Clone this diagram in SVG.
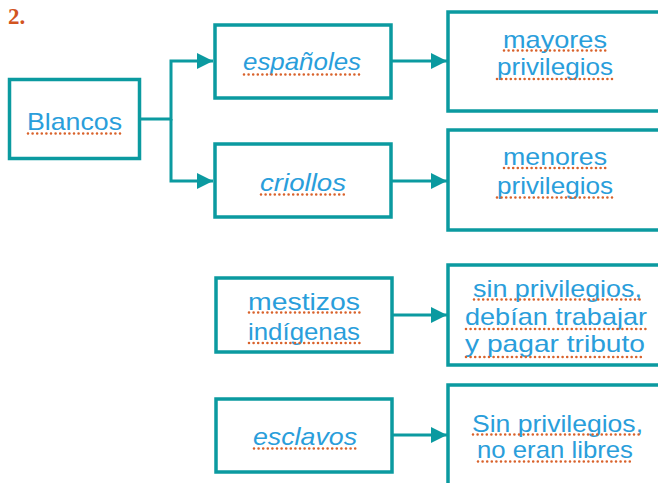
<svg xmlns="http://www.w3.org/2000/svg" width="658" height="483" viewBox="0 0 658 483">
<defs>
<style>
.box{fill:#fff;stroke:#0b9aa0;stroke-width:3.5}
.conn{fill:none;stroke:#0b9aa0;stroke-width:3}
.t{font-family:"Liberation Sans",Arial,sans-serif;font-size:24px;fill:#2a9edb}
.i{font-style:italic}
.u{stroke:#d9622b;stroke-width:2.6;stroke-linecap:round;stroke-dasharray:0 4.6;fill:none}
.num{font-family:"Liberation Serif","DejaVu Serif",serif;font-weight:bold;font-size:23px;fill:#d2541f}
</style>
<marker id="ah" viewBox="0 0 10 10" refX="10" refY="5" markerWidth="16" markerHeight="16" markerUnits="userSpaceOnUse" orient="auto">
<path d="M0,0 L10,5 L0,10 Z" fill="#0b9aa0"/>
</marker>
</defs>
<rect width="658" height="483" fill="#fff"/>
<text class="num" x="8" y="24">2.</text>

<g id="connectors">
<path class="conn" d="M140,119 H171 V61 H213" marker-end="url(#ah)"/>
<path class="conn" d="M171,119 V181 H213" marker-end="url(#ah)"/>
<path class="conn" d="M391,61 H447" marker-end="url(#ah)"/>
<path class="conn" d="M391,181 H447" marker-end="url(#ah)"/>
<path class="conn" d="M392,315 H447" marker-end="url(#ah)"/>
<path class="conn" d="M392,435 H447" marker-end="url(#ah)"/>
</g>

<g id="blancos">
<rect class="box" x="9.5" y="79.5" width="130" height="79"/>
<text class="t" x="27" y="130" textLength="95" lengthAdjust="spacingAndGlyphs">Blancos</text>
<line class="u" x1="28" y1="133.5" x2="122" y2="133.5"/>
</g>

<g id="espanoles">
<rect class="box" x="215" y="25" width="176" height="73"/>
<text class="t i" x="243" y="70" textLength="118" lengthAdjust="spacingAndGlyphs">españoles</text>
<line class="u" x1="244" y1="74.5" x2="362" y2="74.5"/>
</g>

<g id="criollos">
<rect class="box" x="215" y="144" width="176" height="73"/>
<text class="t i" x="260" y="191" textLength="86" lengthAdjust="spacingAndGlyphs">criollos</text>
<line class="u" x1="261" y1="194.5" x2="346" y2="194.5"/>
</g>

<g id="mayores">
<rect class="box" x="448" y="12" width="220" height="99"/>
<text class="t" x="503" y="48" textLength="104" lengthAdjust="spacingAndGlyphs">mayores</text>
<line class="u" x1="504" y1="50.5" x2="607" y2="50.5"/>
<text class="t" x="497" y="75" textLength="116" lengthAdjust="spacingAndGlyphs">privilegios</text>
<line class="u" x1="497" y1="79" x2="613" y2="79"/>
</g>

<g id="menores">
<rect class="box" x="448" y="130" width="220" height="100"/>
<text class="t" x="503" y="165" textLength="104" lengthAdjust="spacingAndGlyphs">menores</text>
<line class="u" x1="504" y1="168" x2="607" y2="168"/>
<text class="t" x="497" y="194" textLength="116" lengthAdjust="spacingAndGlyphs">privilegios</text>
<line class="u" x1="497" y1="197.5" x2="613" y2="197.5"/>
</g>

<g id="mestizos">
<rect class="box" x="216" y="278" width="176" height="74"/>
<text class="t" x="248" y="310" textLength="112" lengthAdjust="spacingAndGlyphs">mestizos</text>
<line class="u" x1="249" y1="312.5" x2="361" y2="312.5"/>
<text class="t" x="248" y="340" textLength="112" lengthAdjust="spacingAndGlyphs">indígenas</text>
<line class="u" x1="249" y1="343" x2="361" y2="343"/>
</g>

<g id="sin-privilegios-tributo">
<rect class="box" x="448" y="265" width="220" height="100"/>
<text class="t" x="473" y="297" textLength="169" lengthAdjust="spacingAndGlyphs">sin privilegios,</text>
<line class="u" x1="474" y1="299.5" x2="642" y2="299.5"/>
<text class="t" x="465" y="325" textLength="182" lengthAdjust="spacingAndGlyphs">debían trabajar</text>
<line class="u" x1="466" y1="329" x2="647" y2="329"/>
<text class="t" x="465" y="352" textLength="180" lengthAdjust="spacingAndGlyphs">y pagar tributo</text>
<line class="u" x1="466" y1="357" x2="645" y2="357"/>
</g>

<g id="esclavos">
<rect class="box" x="216" y="399" width="176" height="73"/>
<text class="t i" x="253" y="445" textLength="104" lengthAdjust="spacingAndGlyphs">esclavos</text>
<line class="u" x1="254" y1="448.5" x2="357" y2="448.5"/>
</g>

<g id="sin-privilegios-libres">
<rect class="box" x="448" y="385" width="220" height="110"/>
<text class="t" x="472" y="432" textLength="171" lengthAdjust="spacingAndGlyphs">Sin privilegios,</text>
<line class="u" x1="473" y1="434.5" x2="643" y2="434.5"/>
<text class="t" x="477" y="458" textLength="156" lengthAdjust="spacingAndGlyphs">no eran libres</text>
<line class="u" x1="478" y1="461.5" x2="633" y2="461.5"/>
</g>
</svg>
